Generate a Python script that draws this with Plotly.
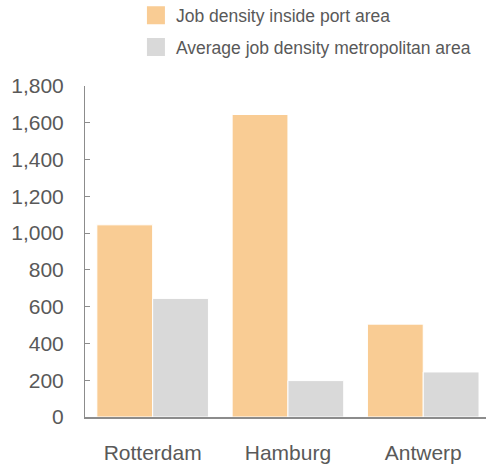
import plotly.graph_objects as go

ports = ["Rotterdam", "Hamburg", "Antwerp"]
inside_port = [1045, 1645, 505]
metro_avg = [645, 198, 245]
series_names = ["Job density inside port area", "Average job density metropolitan area"]
y_ticks = [0, 200, 400, 600, 800, 1000, 1200, 1400, 1600, 1800]

ORANGE = "#F9CC94"
GREY = "#D9D9D9"
TEXT = "#595959"
AXIS = "#8C8C8C"
FONT = "Liberation Sans, Arial, sans-serif"

fig = go.Figure()
for name, vals, col, grp in [(series_names[0], inside_port, ORANGE, "a"),
                             (series_names[1], metro_avg, GREY, "b")]:
    fig.add_trace(go.Bar(
        x=ports, y=vals, name=name, marker=dict(color=col, line=dict(color="white", width=1)),
        showlegend=False, hoverinfo="x+y",
    ))
    # square swatch entries for the legend
    fig.add_trace(go.Scatter(
        x=[None], y=[None], mode="markers", name=name, legendgroup=grp,
        marker=dict(symbol="square", size=16, color=col, line=dict(color=col, width=2)),
    ))

fig.update_layout(
    width=486, height=468,
    margin=dict(l=85, r=0, t=86, b=51, autoexpand=False),
    barmode="group", bargap=0.175, bargroupgap=0,
    plot_bgcolor="white", paper_bgcolor="white",
    font=dict(family=FONT, color=TEXT, size=21),
    legend=dict(
        x=0.127, xanchor="left", y=1.268, yanchor="top",
        font=dict(size=17.5, color=TEXT), traceorder="grouped", tracegroupgap=6,
        bgcolor="rgba(0,0,0,0)",
    ),
    xaxis=dict(
        range=[-0.5, 2.464], showline=True, linecolor=AXIS, linewidth=1.5,
        ticks="", ticklabelstandoff=16, tickfont=dict(size=21, color=TEXT),
        showgrid=False, fixedrange=True,
    ),
    yaxis=dict(
        range=[0, 1800], tickvals=y_ticks, tickformat=",", showline=True,
        linecolor=AXIS, linewidth=1, ticks="inside", ticklen=5, tickcolor=AXIS,
        ticklabelstandoff=16, showgrid=False, zeroline=False,
        tickfont=dict(size=21, color=TEXT), fixedrange=True,
    ),
)

fig.write_html("out.html")
